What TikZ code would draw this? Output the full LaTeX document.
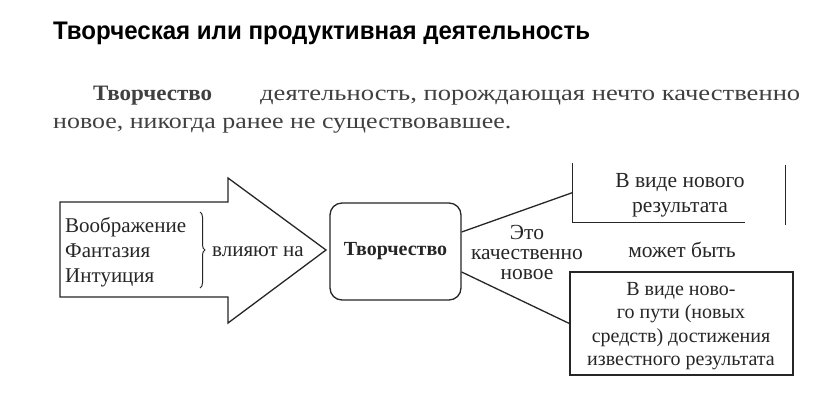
\documentclass[tikz,border=0pt]{standalone}
\usepackage{fontspec}
\setmainfont{Liberation Serif}
\newfontfamily\titlefont{Liberation Sans}
\usetikzlibrary{decorations.pathreplacing,calc}
\tikzset{
  ink/.style={draw=black!85, line width=1.3pt},
  txt/.style={text=black!85, inner sep=0pt, font=\fontsize{21}{25}\selectfont},
  para/.style={text=black!75, inner sep=0pt, anchor=base west, font=\fontsize{22}{28}\selectfont},
}
\begin{document}
\begin{tikzpicture}[x=1pt,y=-1pt]
\useasboundingbox (0,0) rectangle (816,413);
\fill[white] (0,0) rectangle (816,413);
% title
\node[inner sep=0pt, anchor=base west, text=black] (title) at (53,39)
  {\resizebox{537pt}{17.5pt}{\titlefont\bfseries\fontsize{24}{28}\selectfont Творческая или продуктивная деятельность}};
% paragraph
\node[para] (p1a) at (93,100) {\resizebox{119pt}{\height}{\bfseries Творчество}};
\node[para] (p1b) at (260,100) {\resizebox{540pt}{\height}{деятельность, порождающая нечто качественно}};
\node[para] (p2) at (53,128) {\resizebox{458pt}{\height}{новое, никогда ранее не существовавшее.}};
% big arrow
\draw[ink, line join=miter] (60,202) -- (228,202) -- (228,178) -- (326,250) -- (228,323) -- (228,297) -- (60,297) -- cycle;
\node[txt, anchor=west, align=left] (src) at (65,252) {Воображение\\Фантазия\\Интуиция};
\coordinate (brT) at (200,212);
\coordinate (brB) at (200,288);
\draw[draw=black!85, line width=1pt, decoration={brace, amplitude=5pt}, decorate] (brT) -- (brB);
\node[txt, anchor=west] (infl) at (212,252) {влияют на};
% central box
\node[ink, rounded corners=12pt, minimum width=131pt, minimum height=97pt, inner sep=0pt] (tv) at (395.5,251.5) {};
\node[txt, font=\fontsize{20}{25}\selectfont\bfseries] (tvt) at (tv.center) {Творчество};
% label
\node[txt, align=center, font=\fontsize{21.5}{20}\selectfont] (lab) at (527,252) {Это\\качественно\\новое};
% top-right box (open top)
\node[minimum width=212pt, minimum height=59pt, inner sep=0pt] (r1) at (679,192.5) {};
\node[txt, align=center, font=\fontsize{21.5}{25}\selectfont] (r1t) at (680,195.5) {В виде нового\\результата};
\draw[ink] (r1.north west) -- (r1.south west) -- ([xshift=-40pt]r1.south east);
\draw[ink] ([yshift=-2pt]r1.north east) -- ([yshift=-3pt]r1.south east);
% may be
\node[txt, font=\fontsize{21.5}{25}\selectfont] (may) at (682,250) {может быть};
% bottom-right box
\node[ink, minimum width=223pt, minimum height=103pt, inner sep=0pt] (r2) at (681.5,323.5) {};
\node[txt, align=center, font=\fontsize{20}{23.5}\selectfont] (r2t) at (681,326) {В виде ново-\\го пути (новых\\средств) достижения\\известного результата};
% connectors
\draw[ink] ([yshift=19.5pt]tv.east) -- (r1.west);
\draw[ink] ([yshift=-20.5pt]tv.east) -- (r2.west);
\end{tikzpicture}
\end{document}
